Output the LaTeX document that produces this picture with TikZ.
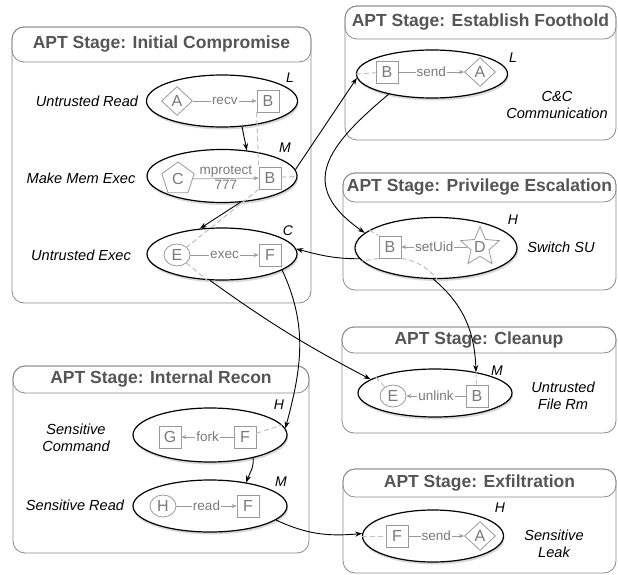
\documentclass[tikz,border=0pt]{standalone}
\usepackage{fontspec}
\setmainfont{Liberation Sans}
\usepackage{tikz}
\usetikzlibrary{calc,shapes.geometric,shadows,arrows.meta}

\definecolor{boxline}{HTML}{8A8A8A}
\definecolor{titletext}{HTML}{555555}
\definecolor{entline}{HTML}{9A9A9A}
\definecolor{enttext}{HTML}{7A7A7A}
\definecolor{flowgray}{HTML}{C0C0C0}

\tikzset{
    stagebox/.style={draw=boxline, line width=0.8pt, rounded corners=12pt, fill=white},
    stagebar/.style={draw=boxline, line width=0.8pt, rounded corners=12pt},
    stagetitle/.style={font=\fontsize{17.5}{20}\selectfont\bfseries, text=titletext},
    event/.style={draw, ellipse, line width=1.2pt, fill=white, inner sep=0pt,
        drop shadow={shadow xshift=1pt, shadow yshift=-2.5pt, opacity=0.3}},
    ent/.style={draw=entline, line width=0.8pt, fill=white, text=enttext,
        font=\fontsize{16}{18}\selectfont, inner sep=0pt},
    sqent/.style={ent, rectangle, minimum size=22pt},
    dment/.style={ent, diamond, minimum width=31pt, minimum height=29pt},
    rdent/.style={ent, ellipse, minimum width=26pt, minimum height=22pt},
    pgent/.style={ent, regular polygon, regular polygon sides=5, minimum size=34pt},
    stent/.style={ent, star, star points=5, star point ratio=2.2, minimum size=41pt},
    opflow/.style={draw=entline, line width=0.7pt, -{Stealth[length=5pt,width=4pt]}},
    oplabel/.style={fill=white, inner sep=1pt, text=enttext, font=\fontsize{13.5}{15}\selectfont},
    opnote/.style={inner sep=1pt, text=enttext, font=\fontsize{13.5}{15}\selectfont},
    dataflow/.style={draw=flowgray, line width=1pt, dash pattern=on 5pt off 3pt},
    causal/.style={->, line width=0.9pt},
    rowlabel/.style={font=\fontsize{14.6}{17.5}\selectfont\itshape, align=center},
    ordlabel/.style={font=\fontsize{14}{16}\selectfont\itshape}
}

\begin{document}
\begin{tikzpicture}[x=1pt,y=-1pt,>={Stealth[length=7pt,width=5pt]}]
\useasboundingbox (0,0) rectangle (618,575);

\foreach \nm/\xa/\ya/\xb/\yb/\yt/\ttl in {ic/12/27/311/303/62/Initial Compromise,
        ef/345/6/616/140/39/Establish Foothold,
        pe/343/173/616/290/202/Privilege Escalation,
        cu/342/327/616/433/353/Cleanup,
        ir/13/366/309/553/393/Internal Recon,
        ex/343/469/616/573/497/Exfiltration} {
    \draw[stagebox] (\xa,\ya) rectangle (\xb,\yb);
    \draw[stagebar] (\xa,\ya) rectangle (\xb,\yt);
    \node[stagetitle] (\nm-title) at ($(\xa,\ya)!.5!(\xb,\yt)$) {APT Stage: \ttl};
}

\node[event, minimum width=151pt, minimum height=52pt] (uread) at (222,101) {};
\node[event, minimum width=150pt, minimum height=53pt] (mexec) at (222,176) {};
\node[event, minimum width=150pt, minimum height=52pt] (uexec) at (222,254) {};
\node[event, minimum width=151pt, minimum height=48pt] (cnc) at (432,74) {};
\node[event, minimum width=162pt, minimum height=61pt] (su) at (436,248) {};
\node[event, minimum width=154pt, minimum height=48pt] (frm) at (435,393) {};
\node[event, minimum width=154pt, minimum height=54pt] (scmd) at (210,435) {};
\node[event, minimum width=154pt, minimum height=52pt] (sread) at (210,506) {};
\node[event, minimum width=141pt, minimum height=52pt] (leak) at (433,536) {};

\node[dment] (uread-a) at (177,101) {A};
\node[sqent] (uread-b) at (268,101) {B};
\node[pgent] (mexec-c) at (178,179) {C};
\node[sqent] (mexec-b) at (270,178) {B};
\node[rdent] (uexec-e) at (177,255) {E};
\node[sqent] (uexec-f) at (270,255) {F};
\node[sqent] (cnc-b) at (387,72) {B};
\node[dment] (cnc-a) at (480,72) {A};
\node[sqent] (su-b) at (390,247) {B};
\node[stent] (su-d) at (480,247) {D};
\node[rdent] (frm-e) at (393,396) {E};
\node[sqent] (frm-b) at (477,396) {B};
\node[sqent] (scmd-g) at (170,437) {G};
\node[sqent] (scmd-f) at (245,437) {F};
\node[rdent] (sread-h) at (163,506) {H};
\node[sqent] (sread-f) at (248,506) {F};
\node[sqent] (leak-f) at (397,536) {F};
\node[dment] (leak-a) at (480,536) {A};

\draw[dataflow] (uread-b.south west) -- (mexec-b.north west);
\draw[dataflow] (mexec-b.south west) -- (uexec-e);
\draw[dataflow] (mexec-b) -- (mexec.east);
\draw[dataflow] (cnc.west) -- (cnc-b);
\draw[dataflow] (su.165) -- (su-b.north west);
\draw[dataflow] (su-b.south west) -- (su.190);
\draw[dataflow] (su-b.south east) to[bend left=20] (su.-88);
\draw[dataflow] (uexec-e) -- (uexec.-120);
\draw[dataflow] (frm.165) -- (frm-e);
\draw[dataflow] (frm.27) -- (frm-b);
\draw[dataflow] (scmd-f) -- (scmd.8);
\draw[dataflow] (leak.west) -- (leak-f);

\draw[opflow] (uread-a) -- node[oplabel] {recv} (uread-b);
\draw[opflow] (mexec-c) -- node[opnote, above] {mprotect} node[opnote, below] {777} (mexec-b);
\draw[opflow] (uexec-e) -- node[oplabel] {exec} (uexec-f);
\draw[opflow] (cnc-b) -- node[oplabel] {send} (cnc-a);
\draw[opflow] (su-d) -- node[oplabel] {setUid} (su-b);
\draw[opflow] (frm-b) -- node[oplabel] {unlink} (frm-e);
\draw[opflow] (scmd-f) -- node[oplabel] {fork} (scmd-g);
\draw[opflow] (sread-h) -- node[oplabel] {read} (sread-f);
\draw[opflow] (leak-f) -- node[oplabel] {send} (leak-a);

\node[rowlabel] (uread-lbl) at (87,101) {Untrusted Read};
\node[rowlabel] (mexec-lbl) at (81,178) {Make Mem Exec};
\node[rowlabel] (uexec-lbl) at (81,255) {Untrusted Exec};
\node[rowlabel] (cnc-lbl) at (557,105) {C\&C\\Communication};
\node[rowlabel] (su-lbl) at (561,247) {Switch SU};
\node[rowlabel] (frm-lbl) at (563,396) {Untrusted\\File Rm};
\node[rowlabel] (scmd-lbl) at (76,438) {Sensitive\\Command};
\node[rowlabel] (sread-lbl) at (75,505) {Sensitive Read};
\node[rowlabel] (leak-lbl) at (554,544) {Sensitive\\Leak};

\node[ordlabel] (uread-ord) at (290,78) {L};
\node[ordlabel] (mexec-ord) at (285,148) {M};
\node[ordlabel] (uexec-ord) at (288,231) {C};
\node[ordlabel] (cnc-ord) at (513,58) {L};
\node[ordlabel] (su-ord) at (513,220) {H};
\node[ordlabel] (frm-ord) at (497,371) {M};
\node[ordlabel] (scmd-ord) at (279,405) {H};
\node[ordlabel] (sread-ord) at (281,482) {M};
\node[ordlabel] (leak-ord) at (500,508) {H};

\draw[causal] (uread.-52) to[out=-80,in=100] (mexec.46);
\draw[causal] (mexec.-55) -- (uexec.131);
\draw[causal] (mexec.5) -- (cnc.183);
\draw[causal] (cnc.-155) to[out=-140,in=145,looseness=1.5] (su.168);
\draw[causal] (su.188) to[out=180,in=-15] (uexec.4);
\draw[causal] (su.-95) to[out=-40,in=92] (frm.27);
\draw[causal] (uexec.-115) to[bend right=4] (frm.168);
\draw[causal] (uexec.-15) to[out=-65,in=75] (scmd.5);
\draw[causal] (scmd.-28) to[out=-85,in=70] (sread.33);
\draw[causal] (sread.-12) to[out=-25,in=185] (leak.178);
\end{tikzpicture}
\end{document}
